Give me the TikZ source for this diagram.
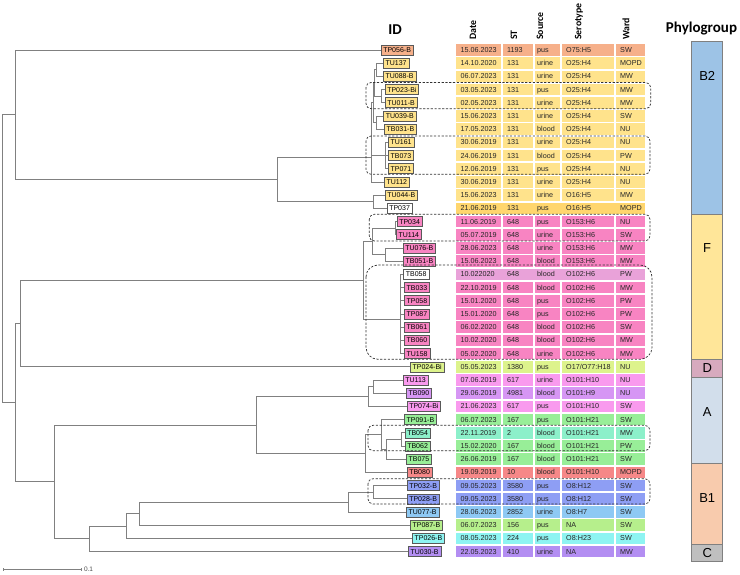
\documentclass[tikz,border=0pt]{standalone}
\usepackage{fontspec}
\setmainfont{Liberation Sans}
\newfontfamily\hdfont{Carlito}
\usetikzlibrary{arrows.meta, calc}
\definecolor{brgray}{HTML}{808080}
\definecolor{orng}{HTML}{F6B08A}
\definecolor{yel}{HTML}{FFE38C}
\definecolor{gold}{HTML}{FFD66E}
\definecolor{pnk}{HTML}{F884C2}
\definecolor{lilac}{HTML}{E9A2D9}
\definecolor{lime}{HTML}{DDF38C}
\definecolor{mag}{HTML}{F99AEE}
\definecolor{purp}{HTML}{D696F4}
\definecolor{grn}{HTML}{98EE98}
\definecolor{aqua}{HTML}{8CF0CA}
\definecolor{rose}{HTML}{F68888}
\definecolor{blu}{HTML}{8E9EF4}
\definecolor{sky}{HTML}{8EC9F4}
\definecolor{lgrn}{HTML}{B6EF8C}
\definecolor{cyn}{HTML}{8EF4F2}
\definecolor{viol}{HTML}{B38EF2}
\definecolor{grpb2}{HTML}{9DC3E6}
\definecolor{grpf}{HTML}{FFE699}
\definecolor{grpd}{HTML}{D7AABE}
\definecolor{grpa}{HTML}{D2DEEB}
\definecolor{grpbone}{HTML}{F8CBAD}
\definecolor{grpc}{HTML}{BFBFBF}

\begin{document}
\begin{tikzpicture}[
  x=1pt, y=-1pt,
  br/.style={brgray, line width=0.9pt},
  idbox/.style={draw=black!65, line width=0.6pt, fill=#1, anchor=west,
    font=\fontsize{7}{8}\selectfont, inner xsep=2.3pt, inner ysep=0pt,
    minimum height=10pt, text height=5pt, text depth=0pt},
  cell/.style={anchor=west, inner sep=0pt, font=\fontsize{7.2}{8}\selectfont,
    text=black!85, text height=5pt, text depth=0pt},
  colhead/.style={rotate=90, anchor=west, inner sep=0pt,
    font=\hdfont\bfseries\fontsize{9.8}{11}\selectfont},
  clade/.style={draw=black!80, line width=0.7pt,
    dash pattern=on 2.2pt off 1.6pt, rounded corners=#1},
  grp/.style={draw=brgray, line width=0.6pt, fill=#1},
  grplabel/.style={font=\fontsize{13}{14}\selectfont},
]
\useasboundingbox (0,0) rectangle (740,575);

% === Headings ===
\node[font=\hdfont\bfseries\fontsize{15}{17}\selectfont] (idhead) at (395,30) {ID};
\node[colhead] (hdate) at (473,40) {Date};
\node[colhead] (hst) at (514,40) {ST};
\node[colhead] (hsrc) at (540,40) {Source};
\node[colhead] (hsero) at (579,40) {Serotype};
\node[colhead] (hward) at (626,40) {Ward};
\node[font=\hdfont\bfseries\fontsize{15}{17}\selectfont] (phylohead) at (701.5,29) {Phylogroup};

% === Isolates: ID box + metadata row ===
\foreach \i/\rid/\rtip/\rbox/\rrow/\rdate/\rst/\rsrc/\rsero/\rward/\rsep in {
  0/TP056-B/380.7/orng/orng/15.06.2023/1193/pus/O75:H5/SW/1,
  1/TU137/383/yel/yel/14.10.2020/131/urine/O25:H4/MOPD/1,
  2/TU088-B/383/yel/yel/06.07.2023/131/urine/O25:H4/MW/1,
  3/TP023-Bi/384.7/yel/yel/03.05.2023/131/pus/O25:H4/MW/1,
  4/TU011-B/384.7/yel/yel/02.05.2023/131/urine/O25:H4/MW/1,
  5/TU039-B/383.3/yel/yel/15.06.2023/131/urine/O25:H4/SW/1,
  6/TB031-B/384/yel/yel/17.05.2023/131/blood/O25:H4/NU/1,
  7/TU161/388/yel/yel/30.06.2019/131/urine/O25:H4/NU/1,
  8/TB073/388/yel/yel/24.06.2019/131/blood/O25:H4/PW/1,
  9/TP071/388/yel/yel/12.06.2019/131/pus/O25:H4/NU/1,
  10/TU112/384/yel/yel/30.06.2019/131/urine/O25:H4/NU/1,
  11/TU044-B/384.7/yel/yel/15.06.2023/131/urine/O16:H5/MW/1,
  12/TP037/386.7/white/gold/21.06.2019/131/pus/O16:H5/MOPD/0,
  13/TP034/396.7/pnk/pnk/11.06.2019/648/pus/O153:H6/NU/1,
  14/TU114/396/pnk/pnk/05.07.2019/648/urine/O153:H6/SW/1,
  15/TU076-B/402.7/pnk/pnk/28.06.2023/648/urine/O153:H6/MW/1,
  16/TB051-B/403/pnk/pnk/15.06.2023/648/blood/O153:H6/MW/1,
  17/TB058/403.3/white/lilac/10.022020/648/blood/O102:H6/PW/0,
  18/TB033/404/pnk/pnk/22.10.2019/648/blood/O102:H6/MW/1,
  19/TP058/404/pnk/pnk/15.01.2020/648/pus/O102:H6/PW/1,
  20/TP087/404/pnk/pnk/15.01.2020/648/pus/O102:H6/PW/1,
  21/TB061/404/pnk/pnk/06.02.2020/648/blood/O102:H6/SW/1,
  22/TB060/404/pnk/pnk/10.02.2020/648/blood/O102:H6/MW/1,
  23/TU158/404/pnk/pnk/05.02.2020/648/urine/O102:H6/MW/1,
  24/TP024-Bi/410/lime/lime/05.05.2023/1380/pus/{O17/O77:H18}/NU/1,
  25/TU113/402.7/mag/mag/07.06.2019/617/urine/O101:H10/NU/1,
  26/TB090/406/purp/purp/29.06.2019/4981/blood/O101:H9/NU/1,
  27/TP074-Bi/406.7/mag/mag/21.06.2023/617/pus/O101:H10/SW/1,
  28/TP091-B/404/grn/grn/06.07.2023/167/pus/O101:H21/SW/1,
  29/TB054/404.7/aqua/aqua/22.11.2019/2/blood/O101:H21/MW/1,
  30/TB062/404.7/grn/grn/15.02.2020/167/blood/O101:H21/PW/1,
  31/TB075/406/grn/grn/26.06.2019/167/blood/O101:H21/SW/1,
  32/TB080/406.7/rose/rose/19.09.2019/10/blood/O101:H10/MOPD/1,
  33/TP032-B/406.7/blu/blu/09.05.2023/3580/pus/O8:H12/SW/1,
  34/TP028-B/406.7/blu/blu/09.05.2023/3580/pus/O8:H12/SW/1,
  35/TU077-B/406/sky/sky/28.06.2023/2852/urine/O8:H7/SW/1,
  36/TP087-B/410/lgrn/lgrn/06.07.2023/156/pus/NA/SW/1,
  37/TP026-B/412/cyn/cyn/08.05.2023/224/pus/O8:H23/SW/1,
  38/TU030-B/408/viol/viol/22.05.2023/410/urine/NA/MW/1}{
  \pgfmathsetmacro\y{50+13.2*\i}
  \fill[\rrow] (456,\y-5.8) rectangle (645,\y+5.8);
  \ifnum\rsep=1
    \foreach \sx in {502,534,561,615}
      \draw[white, line width=1.5pt] (\sx,\y-6) -- (\sx,\y+6);
  \fi
  \node[idbox=\rbox] (t\i) at (\rtip,\y) {\rid};
  \node[cell] (dt\i) at (460.5,\y) {\rdate};
  \node[cell] (st\i) at (507,\y) {\rst};
  \node[cell] (sr\i) at (537,\y) {\rsrc};
  \node[cell] (se\i) at (566,\y) {\rsero};
  \node[cell] (wd\i) at (620,\y) {\rward};
}

% === Tree: internal nodes ===
\coordinate (root) at (2,258.8);
\coordinate (nup) at (15.3,114.8);
\coordinate (ndn) at (15.7,402.8);
\coordinate (nb2) at (277,179.5);
\coordinate (nb2a) at (371,157.3);
\coordinate (nb2b) at (373,201.8);
\coordinate (np) at (373,102.8);
\coordinate (np1) at (374.5,83);
\coordinate (np1a) at (376,69.8);
\coordinate (np1b) at (381,96.2);
\coordinate (np2) at (376,122.6);
\coordinate (nq) at (385,155.6);
\coordinate (ndf) at (20,323.6);
\coordinate (nf) at (363.3,280.4);
\coordinate (nfa) at (372,241.4);
\coordinate (nfa1) at (395,228.2);
\coordinate (nfa2) at (385,254.6);
\coordinate (nfb) at (400,319.3);
\coordinate (nabc) at (54.3,481.9);
\coordinate (na) at (256.7,425);
\coordinate (na1) at (368,396.5);
\coordinate (na1a) at (373,386.6);
\coordinate (na2) at (365,453.5);
\coordinate (nx) at (381.7,434.5);
\coordinate (ny) at (386.7,449.3);
\coordinate (nz) at (401.7,439.4);
\coordinate (nbc) at (89.3,538.8);
\coordinate (nw) at (126,526);
\coordinate (nv) at (139.3,513.6);
\coordinate (nb1) at (348.3,502.1);
\coordinate (nb1a) at (373.3,492.2);

% === Tree: branches ===
\draw[br] (root) |- (nup) (root) |- (ndn);
\draw[br] (nup) |- (t0.west) (nup) |- (nb2);
\draw[br] (nb2) |- (nb2a) (nb2) |- (nb2b);
\draw[br] (nb2b) |- (t11.west) (nb2b) |- (t12.west);
\draw[br] (nb2a) |- (np) (nb2a) |- (nq) (nb2a) |- (t10.west);
\draw[br] (np) |- (np1) (np) |- (np2);
\draw[br] (np1) |- (np1a) (np1) |- (np1b);
\draw[br] (np1a) |- (t1.west) (np1a) |- (t2.west);
\draw[br] (np1b) |- (t3.west) (np1b) |- (t4.west);
\draw[br] (np2) |- (t5.west) (np2) |- (t6.west);
\draw[br] (nq) |- (t7.west) (nq) |- (t8.west) (nq) |- (t9.west);

\draw[br] (ndn) |- (ndf) (ndn) |- (nabc);
\draw[br] (ndf) |- (nf) (ndf) |- (t24.west);
\draw[br] (nf) |- (nfa) (nf) |- (nfb);
\draw[br] (nfa) |- (nfa1) (nfa) |- (nfa2);
\draw[br] (nfa1) |- (t13.west) (nfa1) |- (t14.west);
\draw[br] (nfa2) |- (t15.west) (nfa2) |- (t16.west);
\foreach \k in {17,...,23}
  \draw[br] (nfb) |- (t\k.west);

\draw[br] (nabc) |- (na) (nabc) |- (nbc);
\draw[br] (na) |- (na1) (na) |- (na2);
\draw[br] (na1) |- (na1a) (na1) |- (t27.west);
\draw[br] (na1a) |- (t25.west) (na1a) |- (t26.west);
\draw[br] (na2) |- (nx) (na2) |- (t32.west);
\draw[br] (nx) |- (t28.west) (nx) |- (ny);
\draw[br] (ny) |- (nz) (ny) |- (t31.west);
\draw[br] (nz) |- (t29.west) (nz) |- (t30.west);
\draw[br] (nbc) |- (nw) (nbc) |- (t38.west);
\draw[br] (nw) |- (nv) (nw) |- (t37.west);
\draw[br] (nv) |- (nb1) (nv) |- (t36.west);
\draw[br] (nb1) |- (nb1a) (nb1) |- (t35.west);
\draw[br] (nb1a) |- (t33.west) (nb1a) |- (t34.west);

% === Dashed clusters ===
\draw[clade=5pt] (366,82.5) rectangle (650.7,108.7);
\draw[clade=5pt] (366,136) rectangle (650,174.3);
\draw[clade=5pt] (369.3,214.3) rectangle (650,241);
\draw[clade=12pt] (366,265) rectangle (652,359.3);
\draw[clade=5pt] (368,425.3) rectangle (650,450.7);
\draw[clade=5pt] (368,478.7) rectangle (650,504);

% === Phylogroup bar ===
\draw[grp=grpb2] (691.7,41) rectangle (722.7,214.3);
\draw[grp=grpf] (691.7,214.3) rectangle (722.7,359);
\draw[grp=grpd] (691.7,359) rectangle (722.7,377.3);
\draw[grp=grpa] (691.7,377.3) rectangle (722.7,463.3);
\draw[grp=grpbone] (691.7,463.3) rectangle (722.7,544.3);
\draw[grp=grpc] (691.7,544.3) rectangle (722.7,561.3);
\node[grplabel] (lb2) at (707.2,76) {B2};
\node[grplabel] (lf) at (707.2,248) {F};
\node[grplabel] (ld) at (707.2,368.2) {D};
\node[grplabel] (la) at (707.2,411.7) {A};
\node[grplabel] (lb1) at (707.2,497.7) {B1};
\node[grplabel] (lc) at (707.2,553) {C};

% === Scale bar ===
\coordinate (sbl) at (3.3,569.3);
\coordinate (sbr) at (81.7,569.3);
\draw[br, line width=0.7pt, {Bar[width=3pt]}-{Bar[width=3pt]}] (sbl) -- (sbr)
  node[right=1pt, inner sep=1pt, text=black!70, font=\fontsize{6.5}{7}\selectfont] (sblabel) {0.1};

\end{tikzpicture}
\end{document}
